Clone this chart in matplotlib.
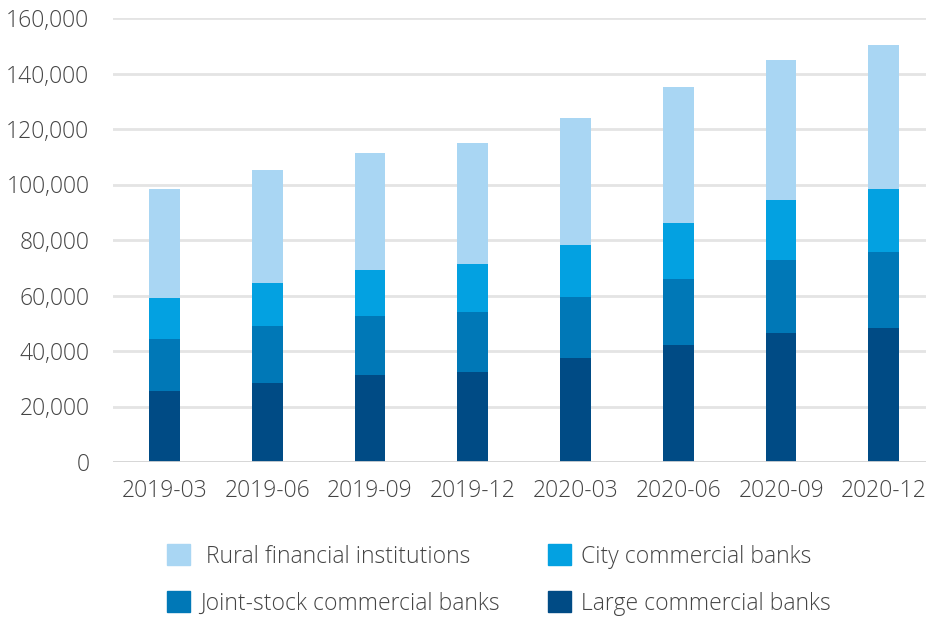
import matplotlib.pyplot as plt
from matplotlib.patches import Patch
import numpy as np

plt.rcParams['font.family'] = ['Open Sans', 'DejaVu Sans']

# Данные
periods = ['2019-03', '2019-06', '2019-09', '2019-12',
           '2020-03', '2020-06', '2020-09', '2020-12']
large = [25600, 28500, 31400, 32400, 37500, 42200, 46500, 48300]
joint_stock = [18700, 20500, 21200, 21600, 22000, 23700, 26300, 27400]
city = [14800, 15500, 16600, 17300, 18700, 20200, 21600, 22700]
rural = [39300, 40700, 42100, 43600, 45800, 49000, 50500, 51900]

colors = {'rural': '#A9D6F3', 'city': '#03A1E1', 'joint': '#0078B7', 'large': '#004B85'}
text_color = '#444444'
fs = 16.5

fig = plt.figure(figsize=(9.26, 6.18), dpi=100)
ax = fig.add_axes([113 / 926, 156 / 618, 813 / 926, 444 / 618])

x = np.arange(len(periods))
w = 0.30
b1 = np.array(large)
b2 = b1 + np.array(joint_stock)
b3 = b2 + np.array(city)
ax.bar(x, large, w, color=colors['large'], zorder=3)
ax.bar(x, joint_stock, w, bottom=b1, color=colors['joint'], zorder=3)
ax.bar(x, city, w, bottom=b2, color=colors['city'], zorder=3)
ax.bar(x, rural, w, bottom=b3, color=colors['rural'], zorder=3)

ax.set_xlim(-0.5, 7.41)
ax.set_ylim(0, 160000)
ax.set_yticks(np.arange(0, 160001, 20000))
ax.yaxis.set_major_formatter(plt.FuncFormatter(lambda v, p: f'{int(v):,}'))
ax.set_xticks(x)
ax.set_xticklabels(periods)
ax.tick_params(axis='both', length=0, labelsize=fs, colors=text_color)
ax.tick_params(axis='y', pad=17)
ax.tick_params(axis='x', pad=12)
for lbl in ax.get_xticklabels() + ax.get_yticklabels():
    lbl.set_fontweight('light')

ax.grid(axis='y', color='#e4e4e4', linewidth=2, zorder=0)
ax.axhline(0, color='#d6d6d6', linewidth=2, zorder=4)
for s in ax.spines.values():
    s.set_visible(False)

handles = [
    Patch(color=colors['rural'], label=' Rural financial institutions'),
    Patch(color=colors['joint'], label='Joint-stock commercial banks'),
    Patch(color=colors['city'], label='City commercial banks'),
    Patch(color=colors['large'], label='Large commercial banks'),
]
leg = fig.legend(handles=handles, ncol=2, loc='center',
                 bbox_to_anchor=(499 / 926, 1 - 580 / 618), frameon=False,
                 fontsize=fs, handlelength=1.0, handleheight=1.0,
                 handletextpad=0.43, columnspacing=2.1, labelspacing=1.0)
for t in leg.get_texts():
    t.set_color(text_color)
    t.set_fontweight('light')

fig.savefig('out.png', dpi=100)
